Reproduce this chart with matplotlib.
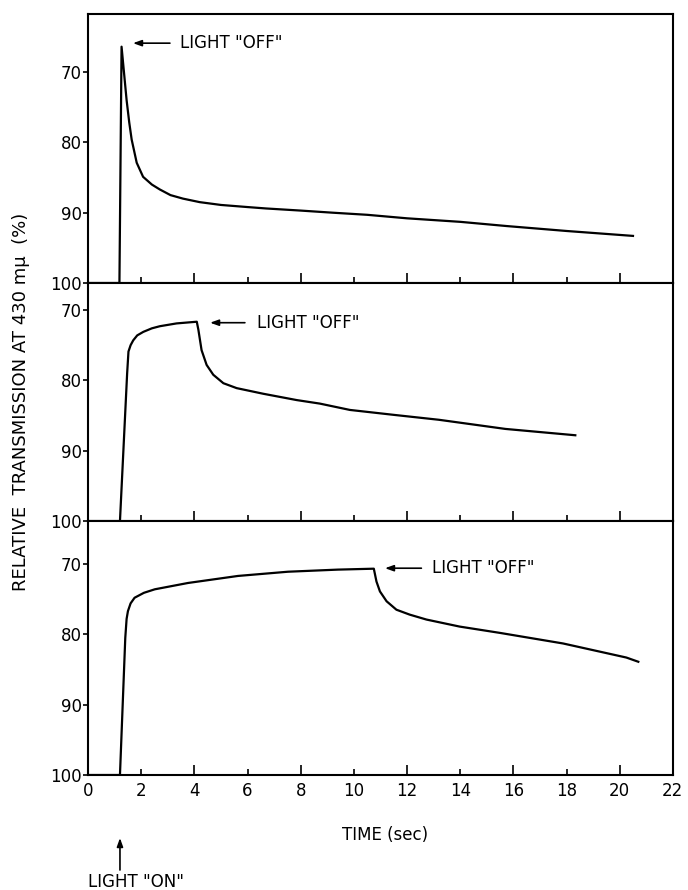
import matplotlib
matplotlib.use("Agg")
import matplotlib.pyplot as plt

plt.rcParams['font.family'] = ['DejaVu Sans']

# time (sec) and relative transmission (%)
top_t = [0, 1.18, 1.26, 1.35, 1.45, 1.55, 1.64, 1.83, 2.07, 2.4, 2.7, 3.1, 3.57,
         4.2, 5.0, 6.0, 6.7, 8.0, 9.2, 10.5, 12.0, 14.0, 15.75, 18.0, 20.5]
top_y = [100, 100, 66.4, 70.0, 74.0, 77.2, 79.6, 82.9, 84.9, 86.0, 86.7, 87.5, 88.0,
         88.5, 88.9, 89.2, 89.4, 89.7, 90.0, 90.3, 90.8, 91.3, 91.9, 92.6, 93.3]

mid_t = [0, 1.2, 1.47, 1.52, 1.6, 1.7, 1.85, 2.08, 2.4, 2.7, 3.33, 4.09, 4.15, 4.27,
         4.46, 4.71, 5.09, 5.59, 6.59, 7.85, 8.72, 9.85, 11.5, 13.2, 15.7, 18.33]
mid_y = [100, 100, 79.0, 75.9, 75.0, 74.3, 73.6, 73.1, 72.6, 72.3, 71.9, 71.66, 72.8, 75.7,
         77.8, 79.2, 80.4, 81.1, 81.9, 82.8, 83.3, 84.2, 84.9, 85.6, 86.9, 87.8]

bot_t = [0, 1.2, 1.40, 1.45, 1.50, 1.6, 1.75, 2.1, 2.51, 3.76, 5.64, 7.52, 9.4, 10.75,
         10.85, 10.98, 11.23, 11.6, 12.1, 12.73, 13.98, 15.5, 17.87, 20.25, 20.7]
bot_y = [100, 100, 80.5, 77.8, 76.7, 75.6, 74.8, 74.1, 73.6, 72.7, 71.7, 71.1, 70.8, 70.67,
         72.5, 73.9, 75.3, 76.5, 77.2, 77.9, 78.9, 79.8, 81.3, 83.3, 83.9]

# upper end of each panel's inverted y range
y_tops = [61.75, 66.16, 63.9]
y_ticks = [70, 80, 90, 100]
x_major = [0, 4, 8, 12, 16, 20]
x_minor = [2, 6, 10, 14, 18, 22]

# where the "OFF" arrow points, where its tail starts, and the label anchor
off_tip = [(1.69, 65.9), (4.59, 71.8), (11.17, 70.6)]
off_tail = [(3.08, 65.9), (5.9, 71.8), (12.54, 70.6)]
off_text = [(3.45, 65.9), (6.35, 71.8), (12.95, 70.5)]

light_on_t = 1.2

spans = [100 - t for t in y_tops]
fig, axes = plt.subplots(3, 1, figsize=(6.88, 8.9), dpi=100, sharex=True,
                         gridspec_kw=dict(height_ratios=spans, hspace=0))
fig.subplots_adjust(left=0.128, right=0.978, top=0.9843, bottom=0.1292)

arrow_style = '-|>,head_length=0.5,head_width=0.18'

series = [(top_t, top_y), (mid_t, mid_y), (bot_t, bot_y)]
for i, ax in enumerate(axes):
    t, y = series[i]
    ax.plot(t, y, color='black', lw=1.6, solid_joinstyle='round')
    ax.set_xlim(0, 22)
    ax.set_ylim(100, y_tops[i])
    ax.set_yticks(y_ticks)
    ax.set_yticklabels([str(v) for v in y_ticks], fontsize=12)
    ax.set_xticks(x_major)
    ax.set_xticks(x_minor, minor=True)
    ax.tick_params(axis='x', which='major', direction='in', length=7, width=1.2)
    ax.tick_params(axis='x', which='minor', direction='in', length=4.5, width=1.2)
    ax.tick_params(axis='y', direction='out', length=3.5, width=1.2, pad=1)
    for s in ax.spines.values():
        s.set_linewidth(1.5)
    ax.annotate('', xy=off_tip[i], xytext=off_tail[i],
                arrowprops=dict(arrowstyle=arrow_style, color='black', lw=1.2,
                                shrinkA=0, shrinkB=0))
    ax.text(off_text[i][0], off_text[i][1], 'LIGHT "OFF"', fontsize=12,
            ha='left', va='center')

axes[2].set_xticks(x_major, [str(v) for v in x_major])
axes[2].set_xticks(x_minor, [str(v) for v in x_minor], minor=True)
axes[2].tick_params(axis='x', which='both', labelsize=12, pad=5)
for ax in axes[:2]:
    ax.tick_params(axis='x', which='both', labelbottom=False)

fig.text(0.031, 0.548, 'RELATIVE  TRANSMISSION AT 430 mμ  (%)', rotation=90,
         ha='center', va='center', fontsize=13)
fig.text(0.56, 0.062, 'TIME (sec)', ha='center', va='center', fontsize=12)

# light switched on: vertical arrow below the time axis
axes[2].annotate('', xy=(light_on_t, 1 - 838 / 890), xytext=(light_on_t, 1 - 870 / 890),
                 xycoords=('data', 'figure fraction'),
                 textcoords=('data', 'figure fraction'), annotation_clip=False,
                 arrowprops=dict(arrowstyle=arrow_style, color='black', lw=1.2,
                                 shrinkA=0, shrinkB=0))
fig.text(88 / 688, 1 - 882 / 890, 'LIGHT "ON"', ha='left', va='center', fontsize=12)

fig.savefig('out.png', dpi=100)
